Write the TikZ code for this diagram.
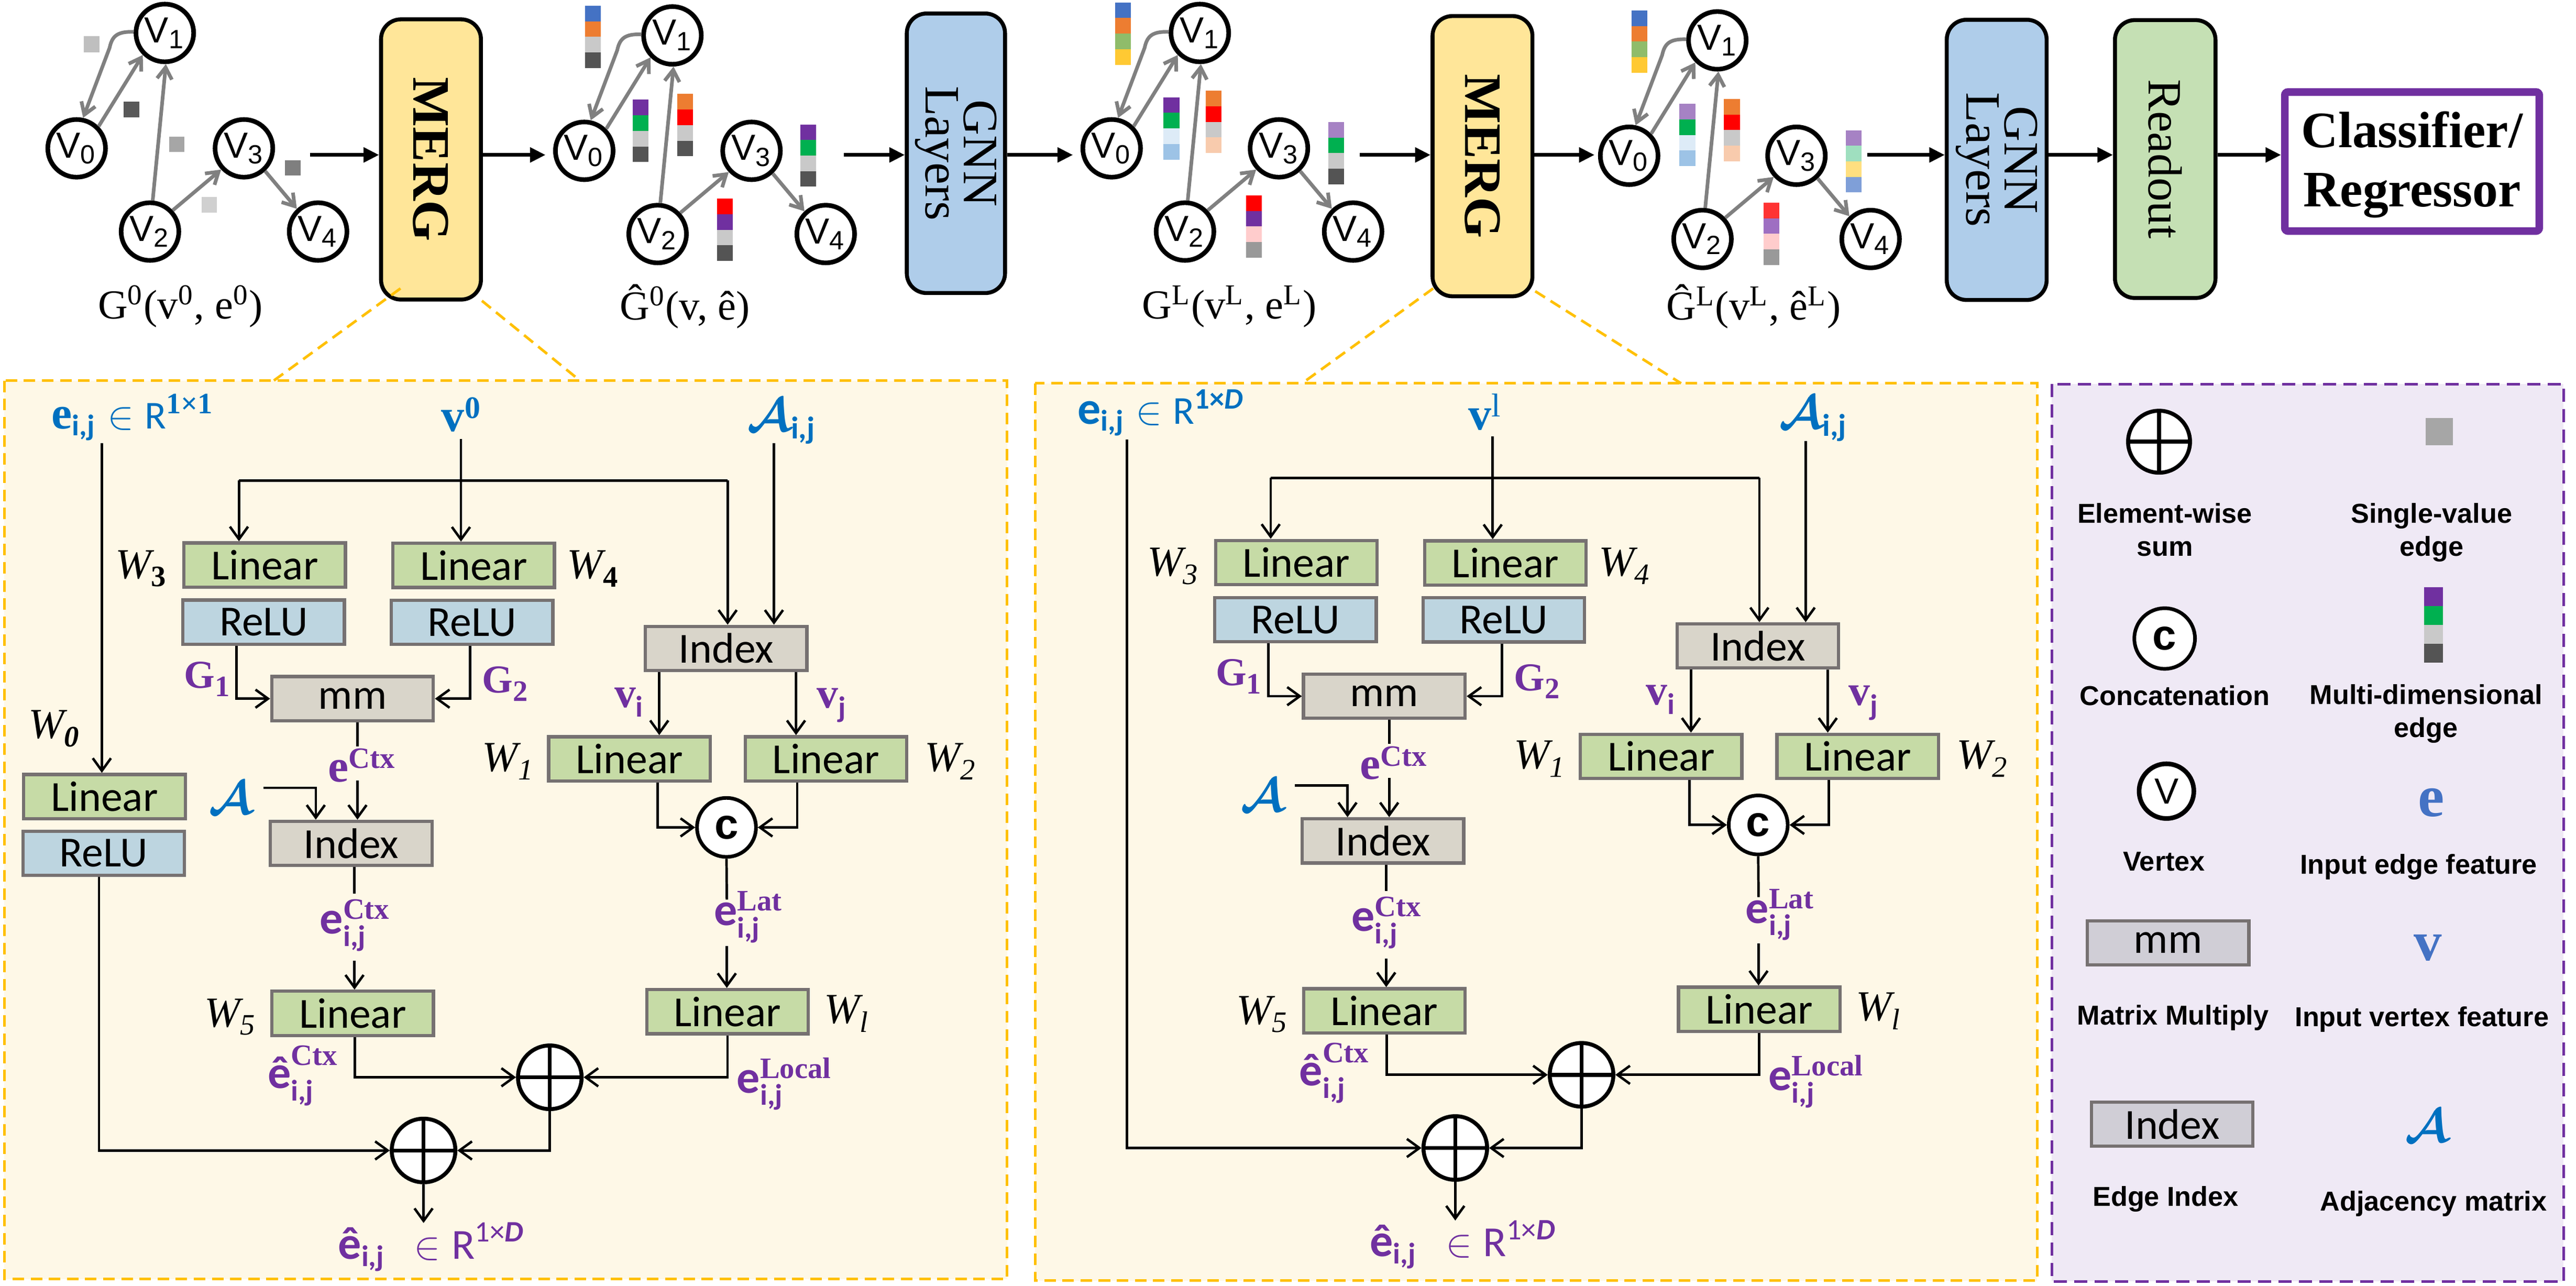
\documentclass[tikz,border=0pt]{standalone}
\usepackage{fontspec}
\usepackage{amsmath}
\setmainfont{Liberation Serif}
\newfontfamily\arialf{Liberation Sans}
\newfontfamily\carl{Carlito}
\usetikzlibrary{arrows.meta}
\newcommand\fsz[1]{\fontsize{#1}{#1}\selectfont}
\newcommand\glabf{\fsz{12.5}}
\newcommand\mergf{\bfseries\fsz{16}}
\newcommand\gnnf{\fontsize{15}{11.5}\selectfont}
\newcommand\readf{\fsz{14.5}}
\newcommand\clsf{\bfseries\fontsize{15.5}{18}\selectfont}
\newcommand\legf{\arialf\bfseries\fontsize{8.3}{10}\selectfont}
\newcommand\lowij{\hbox{\raisebox{-1.3pt}{\carl\fsz{9}\bfseries i,j}}}
\definecolor{mergc}{HTML}{FFE699}
\definecolor{gnnc}{HTML}{AFCDEA}
\definecolor{readc}{HTML}{C5E0B4}
\definecolor{purp}{HTML}{7030A0}
\definecolor{panelbg}{HTML}{FEF8E7}
\definecolor{paneld}{HTML}{FFC000}
\definecolor{legbg}{HTML}{EFE9F5}
\definecolor{lingreen}{HTML}{C6DBA6}
\definecolor{relublue}{HTML}{BDD5E0}
\definecolor{graybox}{HTML}{D9D5CA}
\definecolor{legboxc}{HTML}{D0CED6}
\definecolor{boxgray}{HTML}{767171}
\definecolor{eblue}{HTML}{0070C0}
\definecolor{lblue}{HTML}{4472C4}
\definecolor{edgegray}{HTML}{808080}
\definecolor{bblue}{HTML}{4472C4}
\definecolor{borange}{HTML}{ED7D31}
\definecolor{bltgray}{HTML}{C9C9C9}
\definecolor{bdkgray}{HTML}{545454}
\definecolor{bpurple}{HTML}{7030A0}
\definecolor{bgreen}{HTML}{00B050}
\definecolor{bred}{HTML}{FF0000}
\definecolor{bgreentwo}{HTML}{8FBC6A}
\definecolor{byellow}{HTML}{FFC933}
\definecolor{bpaleblue}{HTML}{DDEBF7}
\definecolor{bltblue}{HTML}{9DC3E6}
\definecolor{bpeach}{HTML}{F8CBAD}
\definecolor{blav}{HTML}{A682C4}
\definecolor{bpink}{HTML}{FFCCCC}
\definecolor{bgray}{HTML}{999999}
\definecolor{bmint}{HTML}{9FDFBF}
\definecolor{blyellow}{HTML}{FFDF80}
\definecolor{bperi}{HTML}{7F9FD8}
\definecolor{bredtwo}{HTML}{FF3333}
\definecolor{blavtwo}{HTML}{9E6FC2}
\definecolor{sqa}{HTML}{BFBFBF}
\definecolor{sqb}{HTML}{595959}
\definecolor{sqc}{HTML}{A6A6A6}
\definecolor{sqd}{HTML}{D0D0D0}
\definecolor{sqe}{HTML}{7F7F7F}
\tikzset{
 vtx/.style={circle,draw,line width=1.4pt,minimum size=17.5pt,inner sep=0pt,fill=white,font=\arialf\fsz{11}},
 gedge/.style={draw=edgegray,line width=1.1pt,-{Straight Barb[length=3.5pt,width=4.5pt]}},
 toparrow/.style={line width=1.1pt,-{Triangle[length=4.7pt,width=4.4pt]}},
 mbox/.style={draw,line width=1.2pt,rounded corners=6pt,inner sep=0pt},
 pbox/.style={draw=boxgray,line width=1pt,minimum width=49pt,minimum height=13.4pt,inner sep=0pt,font=\carl\fsz{13}},
 conn/.style={line width=0.75pt},
 carr/.style={conn,-{Straight Barb[length=3.8pt,width=5.5pt]}},
 osum/.style={circle,draw,line width=1.2pt,fill=white,minimum size=19.3pt,inner sep=0pt,
   path picture={\draw[line width=1.2pt] (path picture bounding box.north) -- (path picture bounding box.south) (path picture bounding box.west) -- (path picture bounding box.east);}},
 ccirc/.style={circle,draw,line width=1.1pt,fill=white,minimum size=17.9pt,inner sep=0pt,font=\arialf\bfseries\fsz{13}},
 pdash/.style={draw=paneld,line width=0.8pt,dash pattern=on 3.5pt off 2pt},
 panelbox/.style={pdash,fill=panelbg},
 legpanel/.style={draw=purp,line width=0.8pt,dash pattern=on 4pt off 2.2pt,fill=legbg},
 lab/.style={inner sep=0pt},
 legtxt/.style={inner sep=0pt,font=\legf},
}
\newcommand\vlab[1]{$\hbox{V}_{\hbox{\fsz{8}#1}}$}
\newcommand\Wlab[1]{$\hbox{\fsz{13}\itshape W}_{\hbox{\fsz{9}#1}}$}
\newcommand\cbar[6]{\foreach \cl [count=\ci from 0] in {#3,#4,#5,#6}{\fill[\cl] (#1,{#2+\ci*9.45}) rectangle ++(9.6,9.45);}}
\newcommand\mgraph{%
 \node[vtx] (V1) at (100,20) {\vlab{1}};
 \node[vtx] (V0) at (46.5,90) {\vlab{0}};
 \node[vtx] (V2) at (91,140.5) {\vlab{2}};
 \node[vtx] (V3) at (148,90) {\vlab{3}};
 \node[vtx] (V4) at (193,140.5) {\vlab{4}};
 \draw[gedge] (V0.45) -- (V1.225);
 \draw[gedge] (V1.178) .. controls (71,19) and (68,22) .. (66.5,29) -- (V0.78);
 \draw[gedge] (V2.85) -- (V1.272);
 \draw[gedge] (V2.43) -- (V3.223);
 \draw[gedge] (V3.-47) -- (V4.133);
}
\newcommand\mergcore[2]{%
 \node[pbox,fill=lingreen] (lin3) at (160.6,342.8) {Linear};
 \node[pbox,fill=relublue] (relu3) at (160,377.5) {ReLU};
 \node[pbox,fill=lingreen] (lin4) at (287.4,343) {Linear};
 \node[pbox,fill=relublue] (relu4) at (286.4,377.6) {ReLU};
 \node[pbox,fill=graybox] (mm) at (213.9,423.9) {mm};
 \node[pbox,fill=graybox] (idxc) at (213.1,511.7) {Index};
 \node[pbox,fill=lingreen] (lin5) at (214,614.8) {Linear};
 \node[pbox,fill=graybox] (idx) at (440.6,393.4) {Index};
 \node[pbox,fill=lingreen] (lin1) at (381.9,460.4) {Linear};
 \node[pbox,fill=lingreen] (lin2) at (501.2,460.4) {Linear};
 \node[pbox,fill=lingreen] (linl) at (441.4,613.8) {Linear};
 \node[ccirc] (cc) at (440.8,502) {c};
 \node[osum] (s1) at (333.6,653.6) {};
 \node[osum] (s2) at (257,698) {};
 % connectors
 \coordinate (vt) at (279.7,266.3);
 \draw[carr] (vt) -- (vt |- lin4.north);
 \coordinate (hl) at (145,291.5);
 \coordinate (hr) at (441.5,291.5);
 \draw[conn] (hl) -- (hr);
 \draw[carr] (hl) -- (hl |- lin3.north);
 \draw[carr] (hr) -- (hr |- idx.north);
 \coordinate (at) at (469.6,269);
 \draw[carr] (at) -- (at |- idx.north);
 \draw[carr] ([xshift=-8.25pt]relu3.south) |- (mm.west);
 \draw[carr] ([xshift=-0.6pt]relu4.south) |- (mm.east);
 \coordinate (m1) at (216.9,452.8);
 \coordinate (m2) at (216.9,473.4);
 \draw[conn] ([xshift=1.5pt]mm.south) -- (m1);
 \draw[carr] (m2) -- (m2 |- idxc.north);
 \coordinate (aa) at (159.7,478);
 \draw[carr] (aa) -| ([xshift=-10.75pt]idxc.north);
 \coordinate (i1) at (215.1,542.2);
 \coordinate (i2) at (215.1,583);
 \draw[conn] ([xshift=1pt]idxc.south) -- (i1);
 \draw[carr] (i2) -- (i2 |- lin5.north);
 \draw[carr] ([xshift=0.7pt]lin5.south) |- (s1.west);
 \draw[carr] (linl.south) |- (s1.east);
 \draw[carr] (s1.south) |- (s2.east);
 \coordinate (outp) at (257,742);
 \draw[carr] (s2.south) -- (outp);
 \draw[carr] ([xshift=-20.3pt]idx.south) -- ([xshift=9.05pt]lin1.north);
 \draw[carr] ([xshift=21.2pt]idx.south) -- ([xshift=-9.1pt]lin2.north);
 \draw[carr] ([xshift=8.55pt]lin1.south) |- (cc.west);
 \draw[carr] ([xshift=-8.75pt]lin2.south) |- (cc.east);
 \coordinate (c1) at (441,545.8);
 \coordinate (c2) at (441,574);
 \draw[conn] (cc.south) -- (c1);
 \draw[carr] (c2) -- (c2 |- linl.north);
 % labels
 \node[lab] (w3) at (86,345) {\Wlab{#1}};
 \node[lab] (w4) at (360,345) {\Wlab{#2}};
 \node[lab] (w1) at (308.5,462) {\Wlab{\itshape 1}};
 \node[lab] (w2) at (577,462) {\Wlab{\itshape 2}};
 \node[lab] (w5) at (140,617) {\Wlab{\itshape 5}};
 \node[lab] (wl) at (514,615) {\Wlab{\itshape l}};
 \node[lab,text=purp] (g1) at (126,412) {$\hbox{\fsz{12}\bfseries G}_{\hbox{\fsz{9}\bfseries 1}}$};
 \node[lab,text=purp] (g2) at (307,415) {$\hbox{\fsz{12}\bfseries G}_{\hbox{\fsz{9}\bfseries 2}}$};
 \node[lab,text=purp] (vi) at (382,426) {$\hbox{\fsz{13}\bfseries v}_{\hbox{\carl\fsz{9}\bfseries i}}$};
 \node[lab,text=purp] (vj) at (505,428) {$\hbox{\fsz{13}\bfseries v}_{\hbox{\carl\fsz{9}\bfseries j}}$};
 \node[lab,anchor=base west,text=purp] (ectx) at (198.7,474.4) {$\hbox{\fsz{14}\bfseries e}^{\hbox{\fsz{9}\bfseries Ctx}}$};
 \node[lab,anchor=base west,text=purp] (ectxij) at (193.7,566.5) {$\hbox{\carl\fsz{14}\bfseries e}^{\hbox{\fsz{9}\bfseries Ctx}}_{\lowij}$};
 \node[lab,anchor=base west,text=purp] (elat) at (432.8,561.5) {$\hbox{\carl\fsz{14}\bfseries e}^{\hbox{\fsz{9}\bfseries Lat}}_{\lowij}$};
 \node[lab,anchor=base west,text=purp] (ehat) at (162,660.3) {$\hbox{\carl\fsz{14}\bfseries ê}^{\hbox{\fsz{9}\bfseries Ctx}}_{\lowij}$};
 \node[lab,anchor=base west,text=purp] (eloc) at (446.7,663) {$\hbox{\carl\fsz{14}\bfseries e}^{\hbox{\fsz{9}\bfseries Local}}_{\lowij}$};
 \node[lab,anchor=base west,text=purp] (outl) at (204.8,763.8) {\fsz{13}$\hbox{\carl\fsz{14}\bfseries ê}_{\hbox{\carl\fsz{9}\bfseries i,j}}\;\,\in\hbox{\carl\fsz{13}R}^{\hbox{\carl\fsz{9}1×\bfseries\itshape D}}$};
 \node[lab,text=eblue] (acal) at (140,484) {\fsz{15}$\boldsymbol{\mathcal{A}}$};
 \node[lab,anchor=base west,text=eblue] (alab) at (453,261.7) {\fsz{15}$\boldsymbol{\mathcal{A}}_{\hbox{\carl\fsz{9.5}\bfseries i,j}}$};
}
\begin{document}
\begin{tikzpicture}[x=0.5pt,y=-0.5pt]
\useasboundingbox (0,0) rectangle (1563,780);
% panels
\draw[panelbox] (2.6,231) rectangle (611,776);
\draw[panelbox] (628,232.6) rectangle (1236,777);
\draw[legpanel] (1245,233) rectangle (1555.5,777.5);

% graphs
\begin{scope}[name prefix=ga-] \mgraph \end{scope}
\begin{scope}[shift={(308,1.5)},name prefix=gb-] \mgraph \end{scope}
\begin{scope}[shift={(628,0)},name prefix=gc-] \mgraph \end{scope}
\begin{scope}[shift={(942,4.5)},name prefix=gd-] \mgraph \end{scope}

% single-value edges
\fill[sqa] (51,21.8) rectangle (60.4,31.7);
\fill[sqb] (75,61.6) rectangle (84.5,71.2);
\fill[sqc] (102.7,83) rectangle (112,92.3);
\fill[sqd] (122.4,119.6) rectangle (131.7,129);
\fill[sqe] (173,97.2) rectangle (182.4,106.6);

% multi-dimensional edges
\cbar{355}{3.5}{bblue}{borange}{bltgray}{bdkgray}
\cbar{384}{60.5}{bpurple}{bgreen}{bltgray}{bdkgray}
\cbar{411}{57}{borange}{bred}{bltgray}{bdkgray}
\cbar{485.5}{75.5}{bpurple}{bgreen}{bltgray}{bdkgray}
\cbar{435}{120.5}{bred}{bpurple}{bltgray}{bdkgray}
\cbar{676.5}{1.5}{bblue}{borange}{bgreentwo}{byellow}
\cbar{706}{59}{bpurple}{bgreen}{bpaleblue}{bltblue}
\cbar{731.5}{55}{borange}{bred}{bltgray}{bpeach}
\cbar{806}{74}{blav}{bgreen}{bltgray}{bdkgray}
\cbar{756}{118.5}{bred}{bpurple}{bpink}{bgray}
\cbar{990}{6.3}{bblue}{borange}{bgreentwo}{byellow}
\cbar{1019}{63}{blav}{bgreen}{bpaleblue}{bltblue}
\cbar{1046}{60}{borange}{bred}{bltgray}{bpeach}
\cbar{1120}{79}{blav}{bmint}{blyellow}{bperi}
\cbar{1070}{123}{bredtwo}{blavtwo}{bpink}{bgray}

% graph labels
\node[lab,font=\glabf] (L1) at (109.5,186) {G\textsuperscript{0}(v\textsuperscript{0}, e\textsuperscript{0})};
\node[lab,font=\glabf] (L2) at (415.5,186) {Ĝ\textsuperscript{0}(v, ê)};
\node[lab,font=\glabf] (L3) at (746,186) {G\textsuperscript{L}(v\textsuperscript{L}, e\textsuperscript{L})};
\node[lab,font=\glabf] (L4) at (1064,186) {Ĝ\textsuperscript{L}(v\textsuperscript{L}, ê\textsuperscript{L})};

% main boxes
\node[mbox,fill=mergc,minimum width=30.3pt,minimum height=85pt] (M1) at (261.5,96.75) {};
\node[rotate=-90,font=\mergf] (M1t) at (M1) {MERG};
\node[mbox,fill=gnnc,minimum width=29.8pt,minimum height=84.8pt] (N1) at (580,93) {};
\node[rotate=-90,font=\gnnf,align=center] (N1t) at (N1) {GNN\\Layers};
\node[mbox,fill=mergc,minimum width=30.3pt,minimum height=85pt] (M2) at (899.5,94.75) {};
\node[rotate=-90,font=\mergf] (M2t) at (M2) {MERG};
\node[mbox,fill=gnnc,minimum width=30.3pt,minimum height=85pt] (N2) at (1211.5,97) {};
\node[rotate=-90,font=\gnnf,align=center] (N2t) at (N2) {GNN\\Layers};
\node[mbox,fill=readc,minimum width=30.5pt,minimum height=84.3pt] (R) at (1313.75,96.5) {};
\node[rotate=-90,font=\readf] (Rt) at (R) {Readout};
\node[draw=purp,line width=2.3pt,fill=white,rounded corners=1pt,minimum width=77.2pt,minimum height=42.2pt] (C) at (1463.5,98) {};
\node[font=\clsf,align=center] (Ct) at (1463.5,100) {Classifier/\\Regressor};

% top arrows
\coordinate (t1) at (188,94);
\draw[toparrow] (t1) -- (t1 -| M1.west);
\coordinate (t2) at (331,94);
\draw[toparrow] (t2 -| M1.east) -- (t2);
\coordinate (t3) at (512,94);
\draw[toparrow] (t3) -- (t3 -| N1.west);
\coordinate (t4) at (651,94);
\draw[toparrow] (t4 -| N1.east) -- (t4);
\coordinate (t5) at (825,94);
\draw[toparrow] (t5) -- (t5 -| M2.west);
\coordinate (t6) at (967.5,94);
\draw[toparrow] (t6 -| M2.east) -- (t6);
\coordinate (t7) at (1133,94);
\draw[toparrow] (t7) -- (t7 -| N2.west);
\draw[toparrow] (t7 -| N2.east) -- (t7 -| R.west);
\draw[toparrow] (t7 -| R.east) -- (t7 -| C.west);

% zoom connectors
\coordinate (d1a) at (243,175); \coordinate (d1b) at (166,231);
\coordinate (d2a) at (292.4,182.5); \coordinate (d2b) at (352,231);
\coordinate (d3a) at (869.6,175); \coordinate (d3b) at (790,232.6);
\coordinate (d4a) at (931.5,176.7); \coordinate (d4b) at (1020,232.6);
\draw[pdash] (d1a) -- (d1b);
\draw[pdash] (d2a) -- (d2b);
\draw[pdash] (d3a) -- (d3b);
\draw[pdash] (d4a) -- (d4b);

% panel 1
\begin{scope}[name prefix=pa-]
 \mergcore{\bfseries 3}{\bfseries 4}
 \node[pbox,fill=lingreen] (lin0) at (63.4,483.3) {Linear};
 \node[pbox,fill=relublue] (relu0) at (62.9,517.7) {ReLU};
 \node[lab] (w0) at (33,442) {\Wlab{\bfseries\itshape 0}};
 \coordinate (et) at (61.8,269);
 \draw[carr] (et) -- (et |- lin0.north);
 \draw[carr] ([xshift=-1.4pt]relu0.south) |- (s2.west);
 \node[lab,anchor=base west,text=eblue] (elab) at (31,260) {\fsz{12}$\hbox{\fsz{14}\bfseries e}_{\hbox{\carl\fsz{9}\bfseries i,j}}\in\hbox{\carl\fsz{12}R}^{\hbox{\fsz{9}\bfseries 1×1}}$};
 \node[lab,anchor=base west,text=eblue] (vlab) at (267.5,261.7) {$\hbox{\fsz{14}\bfseries v}^{\hbox{\fsz{9.5}\bfseries 0}}$};
\end{scope}

% panel 2
\begin{scope}[shift={(626,-1.5)},name prefix=pb-]
 \mergcore{\itshape 3}{\itshape 4}
 \coordinate (et) at (57.8,268);
 \draw[carr] (et) |- (s2.west);
 \node[lab,anchor=base west,text=eblue] (elab) at (27.4,258.7) {\fsz{12}$\hbox{\carl\fsz{14}\bfseries e}_{\hbox{\carl\fsz{9}\bfseries i,j}}\in\hbox{\carl\fsz{12}R}^{\hbox{\carl\fsz{9}\bfseries 1×\itshape D}}$};
 \node[lab,anchor=base west,text=eblue] (vlab) at (264.6,262.3) {$\hbox{\fsz{14}\bfseries v}^{\hbox{\fsz{10}l}}$};
\end{scope}

% legend
\node[osum,minimum size=18.8pt] (lsum) at (1310,268) {};
\node[legtxt,align=center,anchor=north] (lsumt) at (1313.5,305) {Element-wise\\sum};
\fill[sqc] (1471.9,253.5) rectangle (1488.4,270);
\node[legtxt,align=center,anchor=north] (lsvt) at (1475.4,305) {Single-value\\edge};
\node[ccirc,minimum size=18.4pt] (lcc) at (1313.4,387.4) {c};
\node[legtxt,anchor=base] (lcct) at (1319.5,427.8) {Concatenation};
\foreach \cl [count=\ci from 0] in {bpurple,bgreen,bltgray,bdkgray}{\fill[\cl] (1470.9,{356.3+\ci*11.4}) rectangle ++(11.3,11.4);}
\node[legtxt,align=center,anchor=north] (lmdt) at (1472,415) {Multi-dimensional\\edge};
\node[vtx,minimum size=16.6pt] (lv) at (1314.5,480) {V};
\node[lab,text=lblue] (le) at (1475,487) {\fsz{18}\bfseries e};
\node[legtxt,anchor=base] (lvt) at (1313,528.4) {Vertex};
\node[legtxt,anchor=base] (let) at (1467.5,530.3) {Input edge feature};
\node[pbox,fill=legboxc] (lmm) at (1315.5,572.1) {mm};
\node[lab,text=lblue] (lvv) at (1473,575) {\fsz{17}\bfseries v};
\node[legtxt,anchor=base] (lmmt) at (1318.5,621.9) {Matrix Multiply};
\node[legtxt,anchor=base] (lvvt) at (1469.5,622.8) {Input vertex feature};
\node[pbox,fill=legboxc] (lidx) at (1318,682) {Index};
\node[lab,text=eblue] (la) at (1472.5,683) {\fsz{14.5}$\boldsymbol{\mathcal{A}}$};
\node[legtxt,anchor=base] (lidxt) at (1314,731.8) {Edge Index};
\node[legtxt,anchor=base] (lat) at (1476.5,734.5) {Adjacency matrix};
\end{tikzpicture}
\end{document}
